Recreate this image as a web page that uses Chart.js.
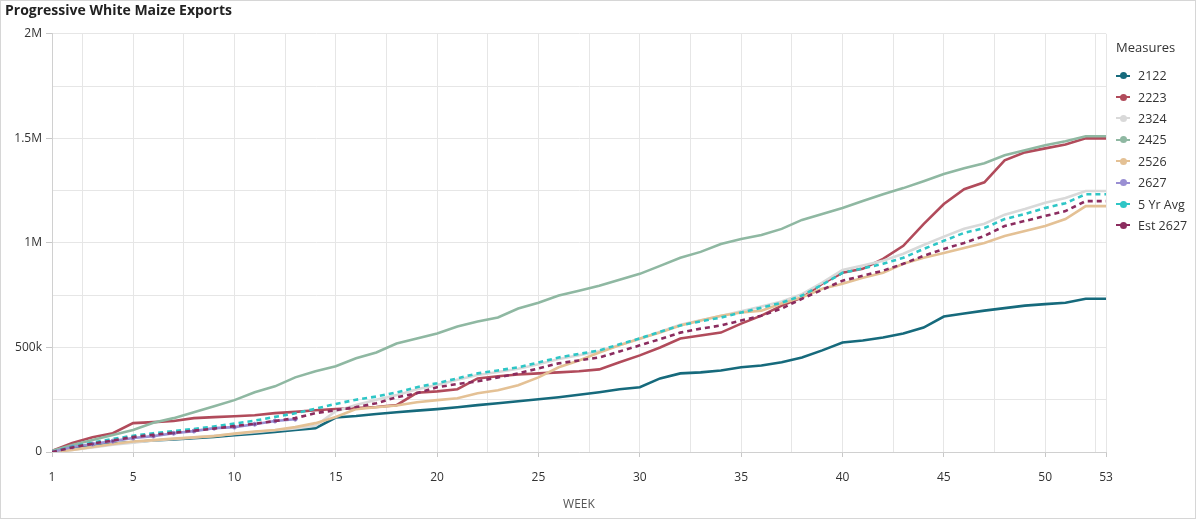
<!DOCTYPE html>
<html>
<head>
<meta charset="utf-8">
<script src="https://cdn.jsdelivr.net/npm/chart.js@4.4.1/dist/chart.umd.min.js"></script>
<style>
  html, body { margin: 0; padding: 0; background: #fff; }
  #wrap { position: relative; width: 1196px; height: 519px; }
  #frame { position: absolute; left: 0; top: 0; width: 1194px; height: 517px; border: 1px solid #d6d6d6; pointer-events: none; }
  #legend { position: absolute; left: 1116px; top: 38px; font-family: "Open Sans", sans-serif; color: #333; }
  #legend .ttl { font-size: 13px; height: 19px; line-height: 19px; margin-bottom: 8px; }
  #legend .item { display: flex; align-items: center; height: 21.4px; font-size: 12.5px; }
  #legend .mk { position: relative; width: 14px; height: 8px; margin-right: 8px; }
  #legend .mk .ln { position: absolute; left: 0; top: 3px; width: 14px; height: 2px; }
  #legend .mk .dt { position: absolute; left: 3.5px; top: 0.5px; width: 7px; height: 7px; border-radius: 50%; }
</style>
</head>
<body>
<div id="wrap">
  <canvas id="myChart" width="1196" height="519"></canvas>
  <div id="legend"></div>
  <div id="frame"></div>
</div>
<script>
// Semanas e rótulos
const weeks = Array.from({ length: 53 }, (_, i) => i + 1);
const xTickLabels = [1, 5, 10, 15, 20, 25, 30, 35, 40, 45, 50, 53];
const xGridWeeks = [1, 2.5, 5, 7.5, 10, 12.5, 15, 17.5, 20, 22.5, 25, 27.5, 30, 32.5, 35, 37.5, 40, 42.5, 45, 47.5, 50, 52.5, 53];
const yTickLabels = { 0: '0', 500000: '500k', 1000000: '1M', 1500000: '1.5M', 2000000: '2M' };

// Séries (toneladas acumuladas)
const s2122 = [5000, 20000, 30000, 40000, 48000, 55000, 60000, 66000, 72000, 80000,
  88000, 96000, 105000, 114000, 165000, 172000, 182000, 190000, 198000, 205000,
  214000, 224000, 233000, 243000, 252000, 262000, 274000, 286000, 300000, 310000,
  352000, 376000, 381000, 390000, 405000, 414000, 429000, 452000, 486000, 524000,
  533000, 548000, 567000, 595000, 648000, 662000, 676000, 688000, 700000, 707000,
  714000, 733000, 733000];
const s2223 = [5000, 43000, 71000, 90000, 138000, 143000, 148000, 162000, 167000, 171000,
  176000, 186000, 192000, 200000, 206000, 210000, 215000, 224000, 283000, 290000,
  300000, 352000, 362000, 371000, 376000, 381000, 386000, 395000, 429000, 462000,
  500000, 543000, 557000, 571000, 614000, 652000, 700000, 738000, 805000, 857000,
  876000, 924000, 986000, 1090000, 1186000, 1257000, 1290000, 1395000, 1433000, 1452000,
  1471000, 1500000, 1500000];
const s2324 = [0, 10000, 22000, 35000, 45000, 55000, 62000, 70000, 78000, 86000,
  95000, 104000, 112000, 125000, 195000, 225000, 250000, 272000, 300000, 320000,
  345000, 368000, 383000, 398000, 420000, 445000, 463000, 482000, 512000, 540000,
  575000, 608000, 630000, 650000, 673000, 696000, 720000, 755000, 810000, 870000,
  892000, 915000, 948000, 990000, 1030000, 1068000, 1092000, 1135000, 1162000, 1192000,
  1215000, 1248000, 1248000];
const s2425 = [5000, 33000, 57000, 81000, 105000, 140000, 162000, 190000, 219000, 248000,
  286000, 314000, 357000, 386000, 410000, 448000, 476000, 519000, 543000, 567000,
  600000, 624000, 643000, 686000, 714000, 748000, 771000, 795000, 824000, 852000,
  890000, 929000, 957000, 995000, 1019000, 1038000, 1067000, 1110000, 1138000, 1167000,
  1200000, 1233000, 1262000, 1295000, 1329000, 1357000, 1381000, 1419000, 1443000, 1467000,
  1486000, 1510000, 1510000];
const s2526 = [0, 10000, 24000, 38000, 50000, 57000, 64000, 70000, 76000, 88000,
  98000, 105000, 119000, 138000, 167000, 205000, 214000, 222000, 238000, 248000,
  257000, 281000, 295000, 319000, 357000, 405000, 438000, 476000, 510000, 543000,
  571000, 605000, 629000, 652000, 667000, 676000, 710000, 740000, 781000, 805000,
  833000, 857000, 900000, 929000, 952000, 976000, 1000000, 1033000, 1057000, 1081000,
  1114000, 1176000, 1176000];
const s2627 = [0, 24000, 38000, 52000, 67000, 76000, 90000, 100000, 114000, 119000,
  133000, 148000, 157000];
const s5YrAvg = [0, 25000, 45000, 62000, 78000, 90000, 100000, 110000, 122000, 136000,
  150000, 168000, 185000, 207000, 230000, 250000, 265000, 285000, 310000, 329000,
  352000, 376000, 390000, 405000, 428000, 452000, 469000, 486000, 515000, 543000,
  575000, 605000, 625000, 643000, 667000, 690000, 714000, 748000, 800000, 857000,
  878000, 900000, 929000, 971000, 1010000, 1048000, 1071000, 1114000, 1138000, 1167000,
  1190000, 1233000, 1233000];
const sEst2627 = [0, 22000, 40000, 55000, 72000, 82000, 92000, 102000, 112000, 124000,
  135000, 148000, 162000, 186000, 200000, 215000, 233000, 262000, 281000, 310000,
  325000, 338000, 357000, 376000, 400000, 424000, 438000, 452000, 481000, 510000,
  540000, 571000, 590000, 605000, 629000, 652000, 686000, 733000, 776000, 819000,
  843000, 867000, 900000, 938000, 971000, 1000000, 1033000, 1081000, 1105000, 1129000,
  1152000, 1200000, 1200000];

const seriesNames = ['2122', '2223', '2324', '2425', '2526', '2627', '5 Yr Avg', 'Est 2627'];
const seriesData = [s2122, s2223, s2324, s2425, s2526, s2627, s5YrAvg, sEst2627];
const seriesColors = ['#166a7c', '#b14b5b', '#d9d9d9', '#8fb8a2', '#e4c195', '#9a8fd3', '#2ec6c6', '#8b2c5f'];
const seriesDash = [[], [], [], [], [], [], [5, 4], [5, 4]];

const fontFam = '"Open Sans", sans-serif';

const datasets = seriesNames.map((name, i) => ({
    label: name,
    data: seriesData[i].map((v, j) => ({ x: weeks[j], y: v })),
    borderColor: seriesColors[i],
    backgroundColor: seriesColors[i],
    borderWidth: 2.6,
    borderDash: seriesDash[i],
    pointRadius: (name === '2627') ? 2 : 0,
    pointBackgroundColor: '#7a3f86',
    pointBorderColor: seriesColors[i],
    pointBorderWidth: 1,
    tension: 0,
    order: seriesNames.length - i
}));

// Legenda em HTML
const legendEl = document.getElementById('legend');
legendEl.innerHTML = '<div class="ttl">Measures</div>' + seriesNames.map((n, i) =>
    '<div class="item"><span class="mk"><span class="ln" style="background:' + seriesColors[i] +
    '"></span><span class="dt" style="background:' + seriesColors[i] + '"></span></span>' + n + '</div>'
).join('');

const config = {
    type: 'line',
    data: { datasets: datasets },
    options: {
        responsive: false,
        animation: false,
        layout: { padding: { left: 5, right: 90, top: 0, bottom: 0 } },
        plugins: {
            legend: { display: false },
            tooltip: { enabled: false },
            title: {
                display: true,
                text: 'Progressive White Maize Exports',
                align: 'start',
                color: '#222',
                font: { family: fontFam, size: 14, weight: '700' },
                padding: { top: 3, bottom: 14 }
            }
        },
        scales: {
            x: {
                type: 'linear',
                min: 1,
                max: 53,
                afterBuildTicks: (scale) => { scale.ticks = xGridWeeks.map(v => ({ value: v })); },
                afterFit: (scale) => { scale.height = 67; },
                ticks: {
                    autoSkip: false,
                    maxRotation: 0,
                    padding: 13,
                    color: '#333',
                    font: { family: fontFam, size: 12 },
                    callback: (v) => xTickLabels.includes(v) ? String(v) : ''
                },
                grid: {
                    color: '#e6e6e6',
                    lineWidth: 1,
                    tickLength: 5,
                    tickColor: (ctx) => (ctx.tick && xTickLabels.includes(ctx.tick.value)) ? '#c8c8c8' : 'rgba(0,0,0,0)'
                },
                border: { color: '#d0d0d0' },
                title: {
                    display: true,
                    text: 'WEEK',
                    color: '#555',
                    font: { family: fontFam, size: 12 },
                    padding: { top: 0, bottom: 7 }
                }
            },
            y: {
                min: 0,
                max: 2000000,
                afterFit: (scale) => { scale.width = 47; },
                ticks: {
                    stepSize: 250000,
                    padding: 4,
                    color: '#333',
                    font: { family: fontFam, size: 12 },
                    callback: (v) => (v in yTickLabels) ? yTickLabels[v] : ''
                },
                grid: {
                    color: '#e6e6e6',
                    lineWidth: 1,
                    tickLength: 6,
                    tickColor: (ctx) => (ctx.tick && (ctx.tick.value in yTickLabels)) ? '#c8c8c8' : 'rgba(0,0,0,0)'
                },
                border: { color: '#d0d0d0' }
            }
        }
    }
};

const ctx = document.getElementById('myChart').getContext('2d');
new Chart(ctx, config);
</script>
</body>
</html>
